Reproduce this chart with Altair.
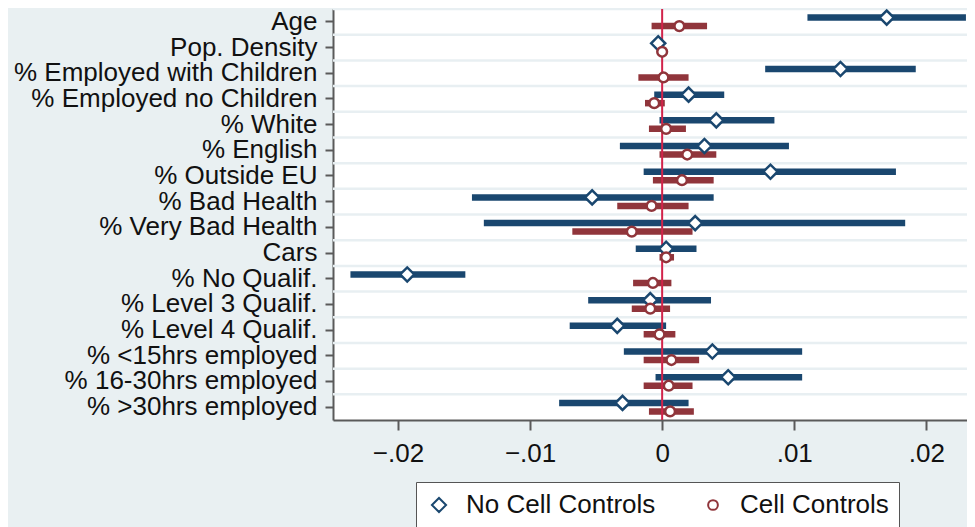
import altair as alt
import pandas as pd

variables = ["Age", "Pop. Density", "% Employed with Children", "% Employed no Children",
             "% White", "% English", "% Outside EU", "% Bad Health", "% Very Bad Health",
             "Cars", "% No Qualif.", "% Level 3 Qualif.", "% Level 4 Qualif.",
             "% <15hrs employed", "% 16-30hrs employed", "% >30hrs employed"]
series = ["No Cell Controls", "Cell Controls"]

nc_est = [0.0170, -0.0003, 0.0135, 0.0020, 0.0041, 0.0032, 0.0082, -0.0053, 0.0025, 0.0003,
          -0.0193, -0.0009, -0.0034, 0.0038, 0.0050, -0.0030]
nc_lo = [0.0110, -0.0005, 0.0078, -0.0006, -0.0002, -0.0032, -0.0014, -0.0144, -0.0135, -0.0020,
         -0.0236, -0.0056, -0.0070, -0.0029, -0.0005, -0.0078]
nc_hi = [0.0230, -0.0001, 0.0192, 0.0047, 0.0085, 0.0096, 0.0177, 0.0039, 0.0184, 0.0026,
         -0.0149, 0.0037, 0.0003, 0.0106, 0.0106, 0.0020]

cc_est = [0.0013, 0.0000, 0.0001, -0.0006, 0.0003, 0.0019, 0.0015, -0.0008, -0.0023, 0.0003,
          -0.0007, -0.0009, -0.0002, 0.0007, 0.0005, 0.0006]
cc_lo = [-0.0008, -0.0002, -0.0018, -0.0013, -0.0010, -0.0002, -0.0007, -0.0034, -0.0068, -0.0002,
         -0.0022, -0.0023, -0.0014, -0.0014, -0.0014, -0.0010]
cc_hi = [0.0034, 0.0002, 0.0020, 0.0002, 0.0018, 0.0041, 0.0039, 0.0020, 0.0023, 0.0009,
         0.0007, 0.0006, 0.0010, 0.0028, 0.0023, 0.0024]

x_ticks = [-0.02, -0.01, 0, 0.01, 0.02]

rows = []
for i, v in enumerate(variables):
    rows.append({"var": v, "series": series[0], "est": nc_est[i], "lo": nc_lo[i], "hi": nc_hi[i]})
for i, v in enumerate(variables):
    rows.append({"var": v, "series": series[1], "est": cc_est[i], "lo": cc_lo[i], "hi": cc_hi[i]})
df = pd.DataFrame(rows)

BLUE = "#1a476f"
RED = "#90353b"
FONT = "Liberation Sans"
AXC = "#5a5a5a"
W = 634
H = 411

xscale = alt.Scale(domain=[-0.02492, 0.02308], nice=False, zero=False)
yscale = alt.Scale(type="band", domain=variables, paddingInner=0, paddingOuter=0)
offscale = alt.Scale(domain=series, paddingInner=0, paddingOuter=0.51)

yaxis = alt.Axis(title=None, labelFontSize=26, labelFont=FONT, labelColor="#111",
                 tickSize=8, tickWidth=2, tickColor=AXC, domainColor=AXC, domainWidth=2,
                 labelPadding=8, grid=False, labelLimit=400)
xaxis = alt.Axis(title=None, values=x_ticks, labelFontSize=26, labelFont=FONT, labelColor="#111",
                 labelExpr="datum.value == 0 ? '0' : replace(format(datum.value, '.2f'), '0.', '.')",
                 tickSize=10, tickWidth=2, tickColor=AXC, domainColor=AXC, domainWidth=2,
                 labelPadding=10, grid=False, labelFlush=False)

base = alt.Chart(df)

grid = base.transform_filter(alt.datum.series == series[0]).mark_rule(
    color="#e8eff2", strokeWidth=2.5
).encode(
    y=alt.Y("var:N", scale=yscale, axis=yaxis, bandPosition=0),
    x=alt.value(0),
    x2=alt.value(W),
)

blue_bars = base.transform_filter(alt.datum.series == series[0]).mark_rule(
    color=BLUE, strokeWidth=6.5, clip=True
).encode(
    y=alt.Y("var:N", scale=yscale, axis=yaxis),
    yOffset=alt.YOffset("series:N", scale=offscale),
    x=alt.X("lo:Q", scale=xscale, axis=xaxis),
    x2="hi:Q",
)

red_bars = base.transform_filter(alt.datum.series == series[1]).mark_rule(
    color=RED, strokeWidth=6.5, clip=True
).encode(
    y=alt.Y("var:N", scale=yscale, axis=yaxis),
    yOffset=alt.YOffset("series:N", scale=offscale),
    x=alt.X("lo:Q", scale=xscale, axis=xaxis),
    x2="hi:Q",
)

zero = alt.Chart(pd.DataFrame({"z": [0]})).mark_rule(color="#d2234a", strokeWidth=2).encode(
    x=alt.X("z:Q", scale=xscale, axis=xaxis)
)

points = base.mark_point(filled=False, fill="white", strokeWidth=2.5, opacity=1).encode(
    y=alt.Y("var:N", scale=yscale, axis=yaxis),
    yOffset=alt.YOffset("series:N", scale=offscale),
    x=alt.X("est:Q", scale=xscale, axis=xaxis),
    color=alt.Color("series:N", scale=alt.Scale(domain=series, range=[BLUE, RED]),
                    legend=alt.Legend(title=None, orient="none", legendX=83, legendY=473,
                                      direction="horizontal", labelFontSize=26, labelFont=FONT,
                                      labelColor="#111", strokeColor="#555", fillColor="white",
                                      padding=10, columnPadding=44, labelOffset=14,
                                      labelLimit=400,
                                      symbolStrokeWidth=2, symbolFillColor="white",
                                      cornerRadius=0)),
    shape=alt.Shape("series:N", scale=alt.Scale(domain=series, range=["diamond", "circle"]),
                    legend=alt.Legend(title=None)),
    size=alt.Size("series:N", scale=alt.Scale(domain=series, range=[200, 95]),
                  legend=alt.Legend(title=None)),
)

chart = alt.layer(grid, blue_bars, red_bars, zero, points).properties(
    width=W, height=H,
    autosize=alt.AutoSizeParams(type="none"),
    padding={"left": 325, "top": 1, "right": 0, "bottom": 107},
    background="#e9f0f2",
).configure_view(fill="white", stroke=None)

chart.save("out.html", embed_options={"renderer": "svg", "actions": False})
